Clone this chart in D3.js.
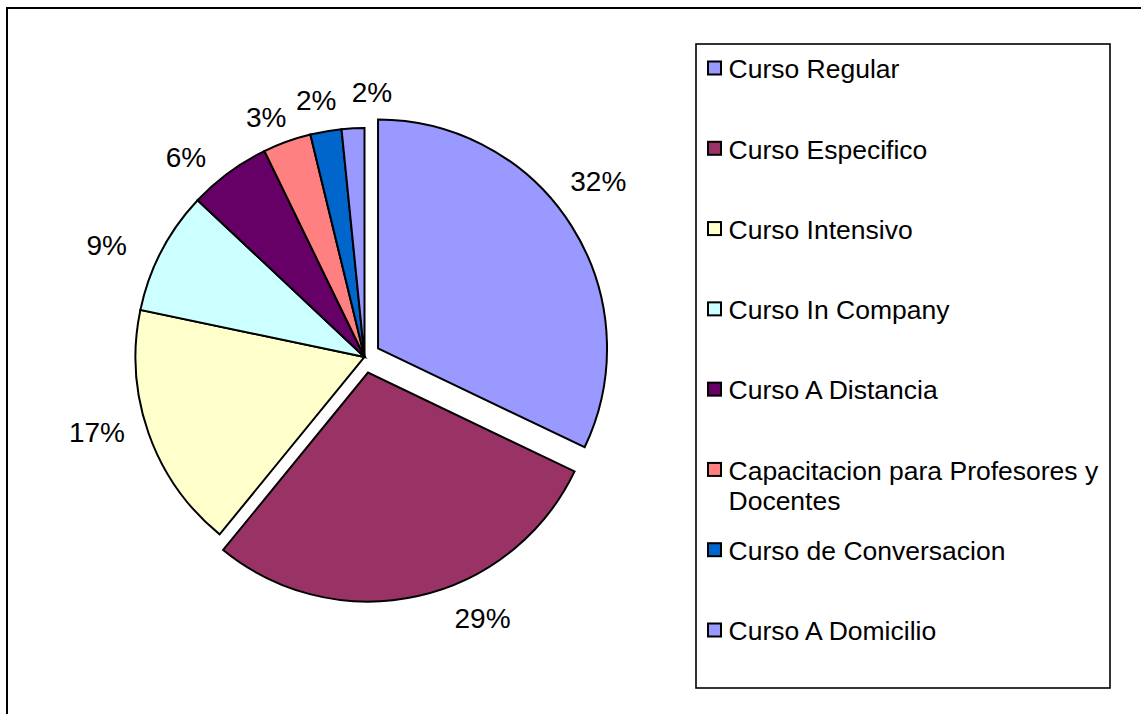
<!DOCTYPE html>
<html>
<head>
<meta charset="utf-8">
<script src="https://cdn.jsdelivr.net/npm/d3@7"></script>
<style>
  html, body { margin: 0; padding: 0; background: #fff; }
  svg { display: block; font-family: "Liberation Sans", Arial, sans-serif; }
</style>
</head>
<body>
<svg id="chart" width="1141" height="714"></svg>
<script>
// ---- data ----
const categories = [
  "Curso Regular",
  "Curso Especifico",
  "Curso Intensivo",
  "Curso In Company",
  "Curso A Distancia",
  "Capacitacion para Profesores y Docentes",
  "Curso de Conversacion",
  "Curso A Domicilio"
];
const shares = [32.1, 28.8, 17.4, 8.7, 5.8, 3.4, 2.2, 1.6];
const colors = ["#9999FF", "#993366", "#FFFFCC", "#CCFFFF", "#660066", "#FF8080", "#0066CC", "#9999FF"];
const exploded = [true, true, false, false, false, false, false, false];
// legend wrapping (as in the original legend)
const legendLines = [
  ["Curso Regular"],
  ["Curso Especifico"],
  ["Curso Intensivo"],
  ["Curso In Company"],
  ["Curso A Distancia"],
  ["Capacitacion para Profesores y", "Docentes"],
  ["Curso de Conversacion"],
  ["Curso A Domicilio"]
];
// label placement tweaks: angular shift (deg) from slice middle and distance from slice origin
const labelShiftDeg = [-5.1, -12.4, 3.7, -4.1, -5.4, -2.5, -0.9, 4.5];
const labelDist = [277, 271, 278, 281, 268, 259, 262, 265];

// ---- layout ----
const svg = d3.select("#chart");
const W = 1141, H = 714;
const cx = 364.5, cy = 357, R = 229, explode = 16;

// outer frame (right/bottom edges fall outside the picture)
svg.append("rect")
  .attr("x", 7).attr("y", 8)
  .attr("width", W + 20).attr("height", H + 20)
  .attr("fill", "#fff").attr("stroke", "#000").attr("stroke-width", 2);

const data = categories.map((c, i) => ({ name: c, value: shares[i], color: colors[i], exploded: exploded[i], idx: i }));

const pie = d3.pie().value(d => d.value).sort(null);
const arcs = pie(data);
const arc = d3.arc().innerRadius(0).outerRadius(R);

const total = d3.sum(shares);
const fmt = v => Math.round(v / total * 100) + "%";

const g = svg.append("g").attr("transform", `translate(${cx},${cy})`);

function origin(a) {
  if (!a.data.exploded) return [0, 0];
  const m = (a.startAngle + a.endAngle) / 2;
  return [explode * Math.sin(m), -explode * Math.cos(m)];
}

g.selectAll("path.slice")
  .data(arcs)
  .join("path")
  .attr("class", "slice")
  .attr("d", arc)
  .attr("transform", d => { const o = origin(d); return `translate(${o[0]},${o[1]})`; })
  .attr("fill", d => d.data.color)
  .attr("stroke", "#000")
  .attr("stroke-width", 2)
  .attr("stroke-linejoin", "miter");

g.selectAll("text.lbl")
  .data(arcs)
  .join("text")
  .attr("class", "lbl")
  .attr("x", d => {
    const o = origin(d);
    const m = (d.startAngle + d.endAngle) / 2 + labelShiftDeg[d.index] * Math.PI / 180;
    return o[0] + labelDist[d.index] * Math.sin(m);
  })
  .attr("y", d => {
    const o = origin(d);
    const m = (d.startAngle + d.endAngle) / 2 + labelShiftDeg[d.index] * Math.PI / 180;
    return o[1] - labelDist[d.index] * Math.cos(m);
  })
  .attr("dy", "0.36em")
  .attr("text-anchor", "middle")
  .attr("font-size", 28)
  .attr("fill", "#000")
  .text(d => fmt(d.data.value));

// ---- legend ----
const lx = 696, ly = 44, lw = 414, lh = 644;
svg.append("rect")
  .attr("x", lx).attr("y", ly).attr("width", lw).attr("height", lh)
  .attr("fill", "#fff").attr("stroke", "#000").attr("stroke-width", 1.6);

const rowY = d3.scalePoint().domain(categories).range([69, 631]);

const items = svg.append("g").selectAll("g.item")
  .data(data)
  .join("g")
  .attr("class", "item")
  .attr("transform", d => `translate(0,${rowY(d.name)})`);

items.append("rect")
  .attr("x", 708).attr("y", -7.5)
  .attr("width", 13).attr("height", 13)
  .attr("fill", d => d.color)
  .attr("stroke", "#000").attr("stroke-width", 2);

items.append("text")
  .attr("x", 728.5)
  .attr("y", 9.3)
  .attr("font-size", 26.5)
  .attr("fill", "#000")
  .selectAll("tspan")
  .data(d => legendLines[d.idx])
  .join("tspan")
  .attr("x", 728.5)
  .attr("dy", (t, i) => i === 0 ? 0 : 30)
  .text(t => t);
</script>
</body>
</html>
